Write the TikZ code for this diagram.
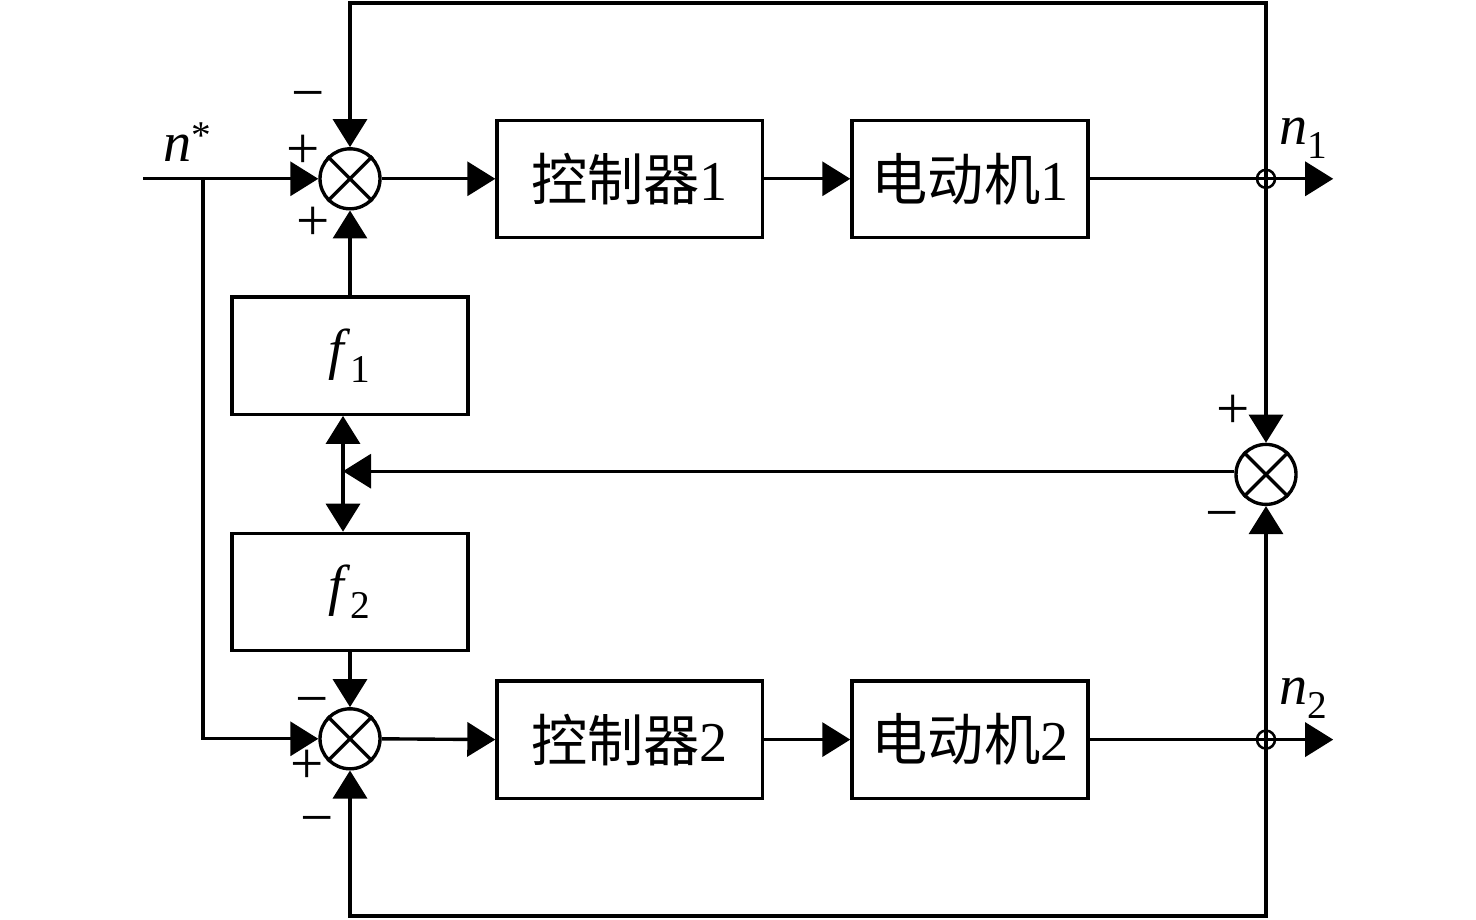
\documentclass[tikz,border=0pt]{standalone}
\usepackage{fontspec}
\setmainfont{Liberation Serif}
\newfontfamily\cjk{Noto Sans CJK SC}
\usepackage{tikz}
\usetikzlibrary{arrows.meta, positioning}

\begin{document}
\begin{tikzpicture}[line width=2.4pt, font=\fontsize{40}{46}\selectfont,
  flow/.style={-{Triangle[length=0.7cm, width=0.85cm]}},
  twoway/.style={{Triangle[length=0.7cm, width=0.85cm]}-{Triangle[length=0.7cm, width=0.85cm]}},
  block/.style={draw, minimum height=2.93cm},
  sumjn/.style={draw, circle, minimum size=1.5cm, inner sep=0pt},
  tap/.style={draw, circle, minimum size=0.45cm, inner sep=0pt, line width=1.8pt},
  sign/.style={inner sep=0pt, font=\fontsize{42}{46}\selectfont}]
\useasboundingbox (0,0) rectangle (36.9,-22.975);

% Nodes
\node[sumjn] (s1) at (8.75,-4.47) {};
\node[sumjn] (s2) at (8.75,-18.47) {};
\node[sumjn] (s3) at (31.65,-11.86) {};
\foreach \s in {s1,s2,s3}{
  \draw (\s.45) -- (\s.225);
  \draw (\s.135) -- (\s.-45);
}
\node[block, minimum width=6.63cm] (c1) at (15.74,-4.47) {{\cjk 控制器}1};
\node[block, minimum width=5.9cm] (m1) at (24.25,-4.47) {{\cjk 电动机}1};
\node[block, minimum width=6.63cm] (c2) at (15.74,-18.49) {{\cjk 控制器}2};
\node[block, minimum width=5.9cm] (m2) at (24.25,-18.49) {{\cjk 电动机}2};
\node[block, minimum width=5.9cm] (f1) at (8.75,-8.89) {\textit{f}\textsubscript{1}};
\node[block, minimum width=5.9cm] (f2) at (8.75,-14.8) {\textit{f}\textsubscript{2}};
\node[tap] (j1) at (31.65,-4.47) {};
\node[tap] (j2) at (31.65,-18.49) {};

\coordinate (in) at (3.575,-4.47);
\coordinate (br) at (5.075,-4.47);
\coordinate (o1) at (33.33,-4.47);
\coordinate (o2) at (33.33,-18.49);
\coordinate (tp) at (8.75,-0.075);
\coordinate (bt) at (8.75,-22.9);
\coordinate (fb) at (8.575,-11.78);

% Upper loop
\draw[flow] (in) -- (s1.west);
\draw[flow] (s1.east) -- (c1.west);
\draw[flow] (c1.east) -- (m1.west);
\draw[flow] (m1.east) -- (o1);
\draw[flow] (j1.center) |- (tp) -- (s1.north);
\draw[flow] (j1.center) -- (s3.north);
\draw[flow] (f1.north) -- (s1.south);

% Lower loop
\draw[flow] (br) |- (s2.west);
\draw[flow] (s2.east) -- (c2.west);
\draw[flow] (c2.east) -- (m2.west);
\draw[flow] (m2.east) -- (o2);
\draw[flow] (j2.center) |- (bt) -- (s2.south);
\draw[flow] (j2.center) -- (s3.south);
\draw[flow] (f2.south) -- (s2.north);

% Speed difference
\draw[flow] (s3.west |- fb) -- (fb);
\draw[twoway] ([xshift=-0.175cm]f1.south) -- ([xshift=-0.175cm]f2.north);

% Labels
\node (nref) at (4.7,-3.55) {\textit{n}\textsuperscript{*}};
\node (n1) at (32.6,-3.45) {\textit{n}\textsubscript{1}};
\node (n2) at (32.6,-17.45) {\textit{n}\textsubscript{2}};
\node[sign] (a1) at (7.7,-2.56) {−};
\node[sign] (a2) at (7.58,-3.8) {+};
\node[sign] (a3) at (7.82,-5.6) {+};
\node[sign] (b1) at (7.8,-17.7) {−};
\node[sign] (b2) at (7.68,-19.18) {+};
\node[sign] (b3) at (7.92,-20.68) {−};
\node[sign] (d1) at (30.82,-10.3) {+};
\node[sign] (d2) at (30.55,-13.05) {−};

\end{tikzpicture}
\end{document}
